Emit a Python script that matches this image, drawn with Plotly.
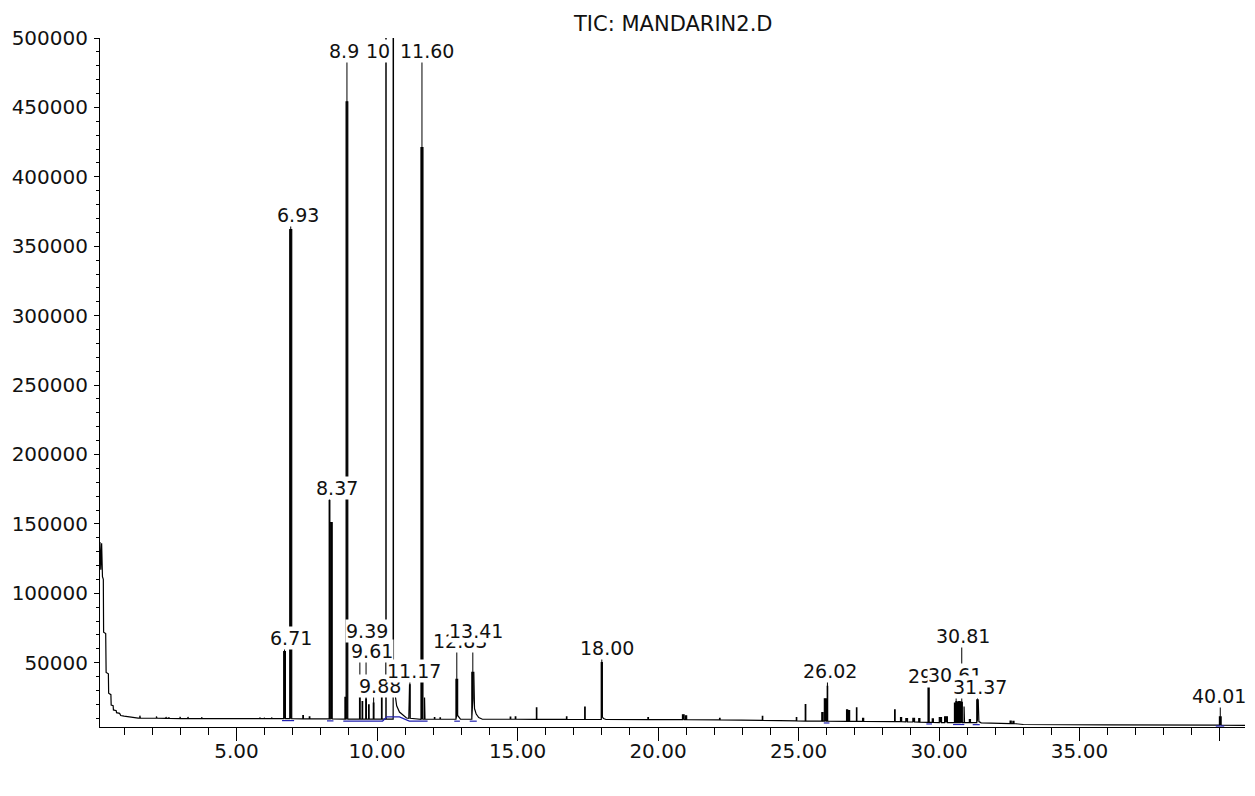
import plotly.graph_objects as go

# ---------------- data ----------------
# slow baseline, solvent front decay and peak tails (time [min], abundance)
base_t = [0.14, 0.17, 0.20, 0.23, 0.26, 0.27, 0.345, 0.36, 0.44, 0.45, 0.53, 0.54, 0.61, 0.62,
          0.72, 0.73, 0.84, 0.88, 1.00, 1.20, 1.50, 6.50, 8.00, 10.00,
          10.62, 10.70, 10.80, 10.95, 11.05, 12.00, 12.92, 12.97,
          13.47, 13.53, 13.62, 13.75, 18.06, 18.15, 20.00, 22.00, 25.00, 28.00,
          30.00, 31.42, 31.50, 32.00, 33.00, 36.00, 40.89]
base_y = [137000, 117000, 136000, 112000, 110000, 72000, 71000, 43000, 42000, 28000, 27000, 19500, 19000, 16000,
          15500, 14000, 13500, 12000, 11500, 10800, 10100, 9700, 9500, 9400,
          30000, 19000, 14500, 11500, 10200, 9300, 10500, 9400,
          17000, 13000, 10500, 9300, 9800, 9100, 9000, 8800, 8000, 7500,
          6900, 7600, 6700, 6300, 5500, 5200, 4900]

# peaks: retention time, apex abundance, half width, foot before, foot after
pk_rt = [1.57, 2.16, 2.50, 2.60, 3.00, 3.28, 3.77, 5.84, 6.00, 6.26,
         6.71, 6.93, 7.37, 7.60, 8.31, 8.37, 8.87, 8.93,
         9.39, 9.48, 9.61, 9.71, 9.88, 10.17, 10.32, 10.58,
         11.14, 11.17, 11.60, 11.70, 12.05, 12.25, 12.84, 13.41,
         14.75, 14.93, 15.68, 16.75, 17.40, 18.00, 19.65, 20.90, 21.00,
         22.20, 23.72, 24.93, 25.25, 25.85, 25.95, 26.03, 26.73, 26.80, 27.07,
         27.30, 28.43, 28.65, 28.85, 29.10, 29.30, 29.63, 29.78,
         30.05, 30.25, 30.57, 30.62, 30.67, 30.72, 30.77, 30.81, 30.90,
         31.10, 31.37, 32.55, 32.65, 40.01]
pk_h = [11800, 11300, 10900, 10800, 11000, 10900, 10800, 10500, 10300, 10500,
        58000, 362000, 12000, 11000, 167000, 151000, 25000, 454000,
        24800, 22000, 23800, 19700, 21000, 24800, 620000, 620000,
        15000, 34000, 421000, 25000, 10500, 10300, 38000, 43000,
        10800, 11000, 17500, 11000, 18000, 50000, 10500, 12500, 11800,
        10000, 11300, 10500, 19800, 14000, 24000, 33000, 16000, 15500, 17500,
        10000, 16000, 10500, 9800, 10000, 9800, 32000, 9500,
        10500, 11000, 21000, 22000, 21500, 22000, 22000, 21800, 18500,
        9000, 23300, 8000, 7800, 11000]
pk_w = [0.01, 0.01, 0.01, 0.01, 0.01, 0.01, 0.01, 0.01, 0.01, 0.01,
        0.03, 0.035, 0.01, 0.01, 0.012, 0.035, 0.012, 0.03,
        0.012, 0.01, 0.012, 0.01, 0.012, 0.01, 0.005, 0.005,
        0.008, 0.012, 0.035, 0.008, 0.008, 0.008, 0.03, 0.035,
        0.01, 0.01, 0.008, 0.008, 0.01, 0.02, 0.01, 0.03, 0.02,
        0.01, 0.008, 0.008, 0.01, 0.02, 0.03, 0.008, 0.02, 0.02, 0.008,
        0.02, 0.01, 0.02, 0.03, 0.03, 0.02, 0.02, 0.02,
        0.04, 0.05, 0.02, 0.02, 0.02, 0.02, 0.02, 0.02, 0.008,
        0.02, 0.025, 0.02, 0.02, 0.03]
pk_b0 = [10100, 10000, 9900, 9900, 9800, 9800, 9700, 9700, 9700, 9700,
         9700, 9700, 9600, 9600, 9500, 9500, 9400, 9400,
         9400, 9400, 9400, 9400, 9400, 9400, 9400, 9400,
         10000, 10000, 9300, 9300, 9300, 9300, 9300, 9300,
         9300, 9300, 9200, 9200, 9100, 9100, 9000, 9000, 9000,
         8800, 8500, 8100, 8000, 7900, 7900, 7900, 7800, 7800, 7700,
         7700, 7500, 7500, 7400, 7300, 7200, 7100, 7000,
         6900, 6900, 6800, 6800, 6800, 6800, 6800, 6800, 6800,
         6800, 6800, 6200, 6200, 5000]
pk_b1 = [10100, 10000, 9900, 9900, 9800, 9800, 9700, 9700, 9700, 9700,
         9700, 9700, 9600, 9600, 9500, 9500, 9400, 9400,
         9400, 9400, 9400, 9400, 9400, 9400, 9400, 36000,
         10000, 10000, 9300, 9300, 9300, 9300, 12000, 24000,
         9300, 9300, 9200, 9200, 9100, 11000, 9000, 9000, 9000,
         8800, 8500, 8100, 8000, 7900, 7900, 7900, 7800, 7800, 7700,
         7700, 7500, 7500, 7400, 7300, 7200, 7100, 7000,
         6900, 6900, 6800, 6800, 6800, 6800, 6800, 6800, 6800,
         6800, 9000, 6200, 6200, 5000]

# integration baseline (blue) segments
blue_t = [6.62, 7.05, None, 8.22, 8.45, None, 8.80, 10.20, 10.35, 10.80, 11.15, 11.80, None,
          12.75, 12.95, None, 13.30, 13.55, None, 25.90, 26.10, None, 29.55, 29.75, None,
          30.50, 30.90, None, 31.20, 31.45, None, 39.85, 40.15]
blue_y = [8300, 8300, None, 8100, 8100, None, 8000, 8000, 11000, 11000, 8000, 8000, None,
          7900, 7900, None, 7900, 7900, None, 6600, 6600, None, 5900, 5900, None,
          5500, 5500, None, 5400, 5400, None, 4400, 4400]

# peak labels
lab_text = ["6.71", "6.93", "8.37", "8.9", "10", "11.60", "9.39", "9.61", "9.88", "11.17",
            "12.83", "13.41", "18.00", "26.02", "29.63", "30.61", "30.81", "31.37", "40.01"]
lab_rt = [6.71, 6.93, 8.31, 8.93, None, 11.60, 9.39, 9.61, 9.88, 11.17,
          12.84, 13.41, 18.00, 26.03, 29.63, 30.61, 30.81, 31.37, 40.01]
lab_apex = [58000, 362000, 167000, 454000, None, 421000, 24800, 23800, 21000, 34000,
            38000, 43000, 50000, 33000, 32000, 22000, 21800, 23300, 11000]
lab_x = [6.93, 7.20, 8.565, 8.826, 10.02, 11.77, 9.63, 9.81, 10.11, 11.32,
         12.95, 13.54, 18.17, 26.12, 29.84, 30.57, 30.84, 31.46, 39.96]
lab_y = [67750, 372500, 175750, 490750, 490750, 490750, 72500, 58750, 33550, 43700,
         65450, 72650, 60550, 43700, 40750, 41300, 69550, 32300, 25700]

x_ticks = [5, 10, 15, 20, 25, 30, 35, 40]
x_ticktext = ["5.00", "10.00", "15.00", "20.00", "25.00", "30.00", "35.00", ""]
y_ticks = [50000, 100000, 150000, 200000, 250000, 300000, 350000, 400000, 450000, 500000]
y_ticktext = [str(v) for v in y_ticks]
title_text = "TIC: MANDARIN2.D"

# ---------------- build trace vertices ----------------
verts = [(t, 0, y) for t, y in zip(base_t, base_y)]
body_t, body_y = [], []
for rt, h, w, b0, b1 in zip(pk_rt, pk_h, pk_w, pk_b0, pk_b1):
    verts += [(rt - w, 0, b0), (rt - w, 1, h), (rt + w, 2, h), (rt + w, 3, b1)]
    if w >= 0.02:
        body_t += [rt - w, rt - w, rt + w, rt + w, rt - w, None]
        body_y += [b0, h, h, b1, b0, None]
verts.sort(key=lambda v: (v[0], v[1]))
tic_t = [v[0] for v in verts]
tic_y = [v[2] for v in verts]

lead_t, lead_y = [], []
for rt, ap, ly in zip(lab_rt, lab_apex, lab_y):
    if rt is None:
        continue
    lead_t += [rt, rt, None]
    lead_y += [ly, ap, None]

FONT = "DejaVu Sans"

fig = go.Figure()
fig.add_trace(go.Scatter(x=body_t, y=body_y, mode="lines", fill="toself",
                         fillcolor="black", line=dict(color="black", width=0),
                         hoverinfo="skip"))
fig.add_trace(go.Scatter(x=tic_t, y=tic_y, mode="lines",
                         line=dict(color="black", width=1.2), hoverinfo="skip"))
fig.add_trace(go.Scatter(x=lead_t, y=lead_y, mode="lines",
                         line=dict(color="black", width=1), hoverinfo="skip"))
fig.add_trace(go.Scatter(x=blue_t, y=blue_y, mode="lines",
                         line=dict(color="#2020b0", width=1.2), hoverinfo="skip"))

annotations = []
for txt, x, y in zip(lab_text, lab_x, lab_y):
    annotations.append(dict(x=x, y=y, xref="x", yref="y", text=txt, showarrow=False,
                            xanchor="center", yanchor="middle", bgcolor="white",
                            borderpad=0, font=dict(family=FONT, size=19, color="#111")))
annotations.append(dict(x=0.5, y=1, xref="paper", yref="paper", text=title_text,
                        showarrow=False, xanchor="center", yanchor="middle", yshift=14,
                        font=dict(family=FONT, size=21, color="#111")))

fig.update_layout(
    width=1239, height=780, autosize=False,
    margin=dict(l=92, r=2, t=30, b=61),
    paper_bgcolor="white", plot_bgcolor="white",
    showlegend=False,
    annotations=annotations,
    xaxis=dict(range=[0.142, 40.89], showline=True, linecolor="black", linewidth=1,
               ticks="outside", ticklen=13, tickwidth=1, tickcolor="black",
               tickmode="array", tickvals=x_ticks, ticktext=x_ticktext,
               showgrid=False, zeroline=False, ticklabelstandoff=-7,
               tickfont=dict(family=FONT, size=20, color="#111"),
               minor=dict(tickmode="linear", tick0=0, dtick=1, ticks="outside",
                          ticklen=7, tickwidth=1, tickcolor="black", showgrid=False)),
    yaxis=dict(range=[3700, 500000], showline=True, linecolor="black", linewidth=1,
               ticks="outside", ticklen=5, tickwidth=1, tickcolor="black",
               tickmode="array", tickvals=y_ticks, ticktext=y_ticktext,
               showgrid=False, zeroline=False, ticklabelstandoff=2,
               tickfont=dict(family=FONT, size=20, color="#111"),
               minor=dict(tickmode="linear", tick0=0, dtick=10000, ticks="outside",
                          ticklen=3, tickwidth=1, tickcolor="black", showgrid=False)),
)

fig.write_html("out.html")
